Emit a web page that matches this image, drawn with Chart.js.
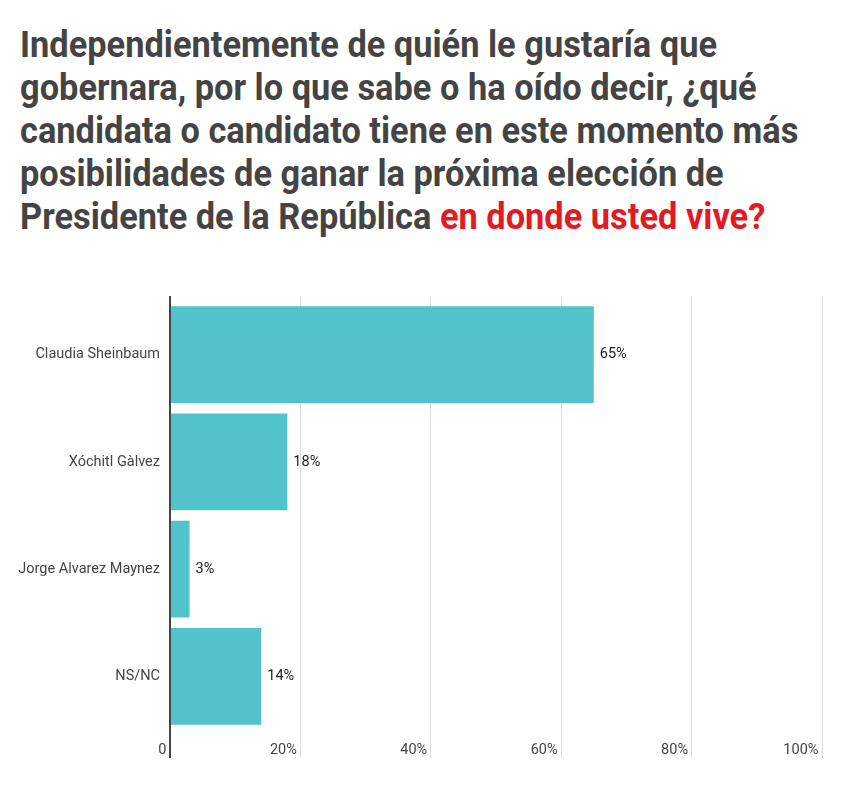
<!DOCTYPE html>
<html>
<head>
<meta charset="utf-8">
<script src="https://cdn.jsdelivr.net/npm/chart.js@4"></script>
<style>
  html, body { margin: 0; padding: 0; background: #fff; width: 865px; height: 802px; overflow: hidden; }
  #title { position: absolute; left: 20px; top: 23px; width: 840px; white-space: nowrap; font-family: Roboto, sans-serif; font-weight: bold; font-size: 34.4px; line-height: 39.1px; color: #444; transform: scaleY(1.1); transform-origin: 0 0; }
  #title .red { color: #e21a23; }
  #wrap { position: absolute; left: 0; top: 280px; width: 865px; height: 500px; }
</style>
</head>
<body>
<div id="title">Independientemente de quién le gustaría que<br>gobernara, por lo que sabe o ha oído decir, ¿qué<br>candidata o candidato tiene en este momento más<br>posibilidades de ganar la próxima elección de<br>Presidente de la República <span class="red">en donde usted vive?</span></div>
<div id="wrap"><canvas id="c"></canvas></div>
<script>
const categories = ['Claudia Sheinbaum', 'Xóchitl Gàlvez', 'Jorge Alvarez Maynez', 'NS/NC'];
const values = [65, 18, 3, 14];
const tickLabels = ['0', '20%', '40%', '60%', '80%', '100%'];

const valueLabels = {
  id: 'valueLabels',
  afterDatasetsDraw(chart) {
    const ctx = chart.ctx;
    const meta = chart.getDatasetMeta(0);
    ctx.save();
    ctx.font = '14.5px Roboto, sans-serif';
    ctx.fillStyle = '#222';
    ctx.textAlign = 'left';
    ctx.textBaseline = 'middle';
    meta.data.forEach((bar, i) => {
      ctx.fillText(values[i] + '%', bar.x + 6, bar.y);
    });
    ctx.restore();
  }
};

const gridColor = (c) => c.index === 0 ? '#444' : '#dddddd';
const gridWidth = (c) => c.index === 0 ? 2 : 1;

new Chart(document.getElementById('c'), {
  type: 'bar',
  data: {
    labels: categories,
    datasets: [{
      data: values,
      backgroundColor: '#52c3cb',
      borderWidth: 0,
      categoryPercentage: 0.9,
      barPercentage: 1.0,
      xAxisID: 'x',
      yAxisID: 'y'
    }]
  },
  options: {
    indexAxis: 'y',
    responsive: true,
    maintainAspectRatio: false,
    animation: false,
    layout: { padding: { top: 16, right: 43, bottom: 0, left: 0 } },
    plugins: { legend: { display: false }, tooltip: { enabled: false }, title: { display: false } },
    scales: {
      x: {
        position: 'bottom',
        min: 0, max: 100,
        ticks: {
          stepSize: 20,
          align: 'end',
          padding: -16,
          color: '#444',
          font: { family: 'Roboto', size: 14.5 },
          callback: (v, i) => tickLabels[i] + ' '
        },
        grid: { color: gridColor, lineWidth: gridWidth, tickLength: 28, drawTicks: true, tickColor: gridColor, tickWidth: gridWidth },
        border: { display: false },
        afterFit: (s) => { s.height = 50; }
      },
      x2: {
        position: 'top',
        min: 0, max: 100,
        ticks: { stepSize: 20, display: false },
        grid: { drawOnChartArea: false, tickLength: 5, color: gridColor, lineWidth: gridWidth },
        border: { display: false },
        afterFit: (s) => { s.height = 5; }
      },
      y: {
        ticks: { color: '#444', padding: 10, font: { family: 'Roboto', size: 14.5 } },
        grid: { display: false, drawTicks: false },
        border: { display: true, color: '#444', width: 2 },
        afterFit: (s) => { s.width = 170; }
      }
    }
  },
  plugins: [valueLabels]
});
</script>
</body>
</html>
